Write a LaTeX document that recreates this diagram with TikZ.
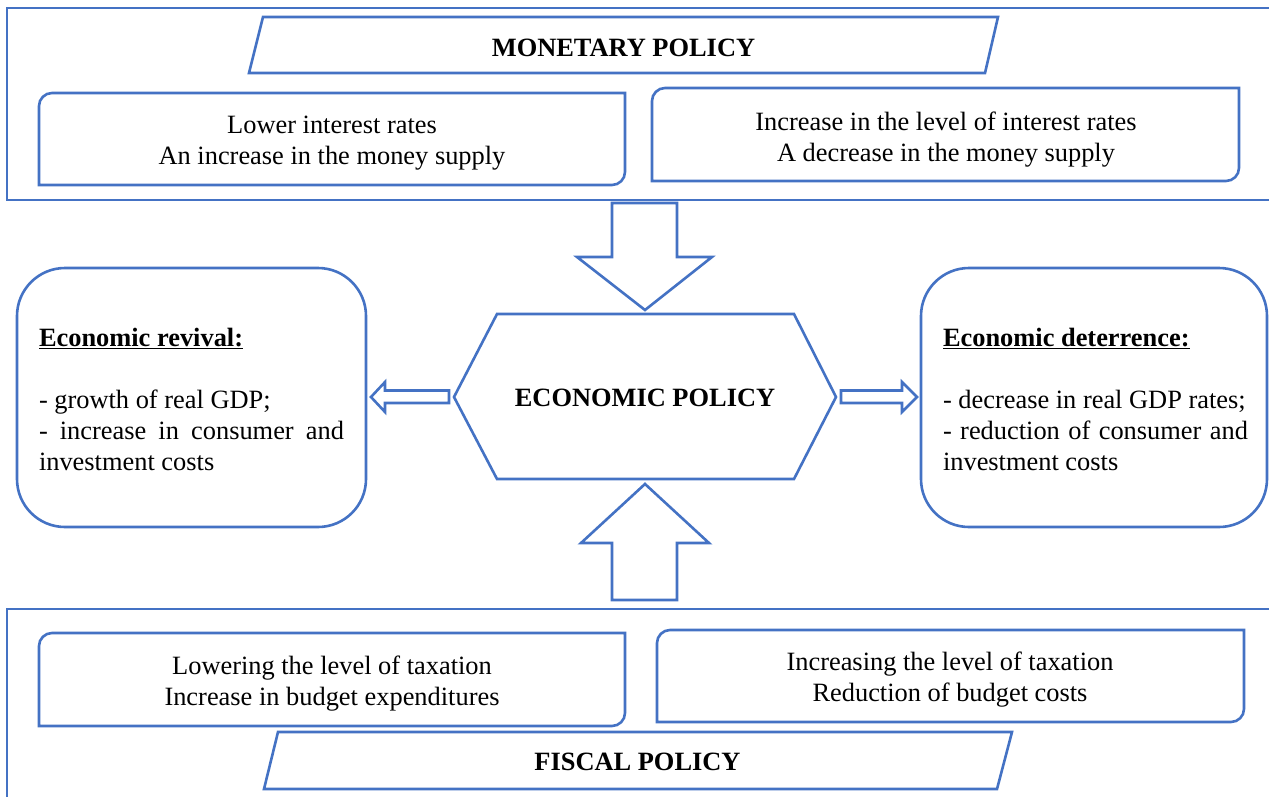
\documentclass[tikz,border=0pt]{standalone}
\usepackage{fontspec}
\setmainfont{Liberation Serif}
\definecolor{ob}{HTML}{4472C4}
\tikzset{
  ln/.style={draw=ob, line width=2.6pt, line join=miter},
  txt/.style={font=\fontsize{26.4}{31}\selectfont, align=center, inner sep=0pt},
  sidetxt/.style={font=\fontsize{26.4}{31}\selectfont, text width=305pt, align=justify, inner sep=0pt}
}
\newcommand\rdbox[5]{%
  \draw[ln] (#1,#4) -- (#1,#2+#5) .. controls (#1,#2+0.45*#5) and (#1+0.45*#5,#2) .. (#1+#5,#2)
    -- (#3,#2) -- (#3,#4-#5) .. controls (#3,#4-0.45*#5) and (#3-0.45*#5,#4) .. (#3-#5,#4) -- cycle;}
\begin{document}
\begin{tikzpicture}[x=1pt,y=-1pt]
\useasboundingbox (0,0) rectangle (1269,796);
\clip (0,0) rectangle (1269,796);
\fill[white] (0,0) rectangle (1269,796);
% outer frames
\draw[ln] (7,8) rectangle (1290,200);
\draw[ln] (7,609) rectangle (1290,820);
% parallelograms
\draw[ln] (263,17) -- (998,17) -- (985,73) -- (249,73) -- cycle;
\draw[ln] (278,732) -- (1012,732) -- (997,789) -- (264,789) -- cycle;
% policy boxes
\rdbox{39}{93}{625}{185}{13}
\rdbox{652}{88}{1239}{181}{13}
\rdbox{39}{633}{625}{726}{13}
\rdbox{657}{630}{1244}{722}{13}
% side boxes
\draw[ln, rounded corners=48pt] (17,268) rectangle (366,527);
\draw[ln, rounded corners=48pt] (921,268) rectangle (1267,527);
% hexagon
\draw[ln] (454,397) -- (497,314) -- (794,314) -- (836,397) -- (794,479) -- (497,479) -- cycle;
% block arrows
\coordinate (dtip) at (645,310);
\coordinate (utip) at (645,484);
\coordinate (ltip) at (371,397);
\coordinate (rtip) at (917,397);
\draw[ln] (dtip) -- (712,257) -- (677,257) -- (677,203) -- (612,203) -- (612,257) -- (577,257) -- cycle;
\draw[ln] (utip) -- (709,543) -- (677,543) -- (677,600) -- (612,600) -- (612,543) -- (581,543) -- cycle;
\draw[ln] (ltip) -- (385,382) -- (385,390.5) -- (449,390.5) -- (449,403) -- (385,403) -- (385,412) -- cycle;
\draw[ln] (rtip) -- (902,382) -- (902,390.5) -- (841,390.5) -- (841,403) -- (902,403) -- (902,412) -- cycle;
% texts
\node[txt] (mon) at (623.5,48) {\textbf{MONETARY POLICY}};
\node[txt] (mL) at (332,143) {Lower interest rates\\An increase in the money supply};
\node[txt] (mR) at (946,139.5) {Increase in the level of interest rates\\A decrease in the money supply};
\node[txt] (eco) at (645,398) {\textbf{ECONOMIC POLICY}};
\node[sidetxt] (rev) at (191.5,399) {\parindent=0pt\hyphenpenalty=10000\tolerance=9999
  \underline{\textbf{Economic revival:}}\par\strut\par
  - growth of real GDP;\par
  - increase in consumer and investment costs};
\node[sidetxt] (det) at (1095.5,399) {\parindent=0pt\hyphenpenalty=10000\tolerance=9999
  \underline{\textbf{Economic deterrence:}}\par\strut\par
  - decrease in real GDP rates;\par
  - reduction of consumer and investment costs};
\node[txt] (fL) at (332,683.5) {Lowering the level of taxation\\Increase in budget expenditures};
\node[txt] (fR) at (950,680) {Increasing the level of taxation\\Reduction of budget costs};
\node[txt] (fis) at (637.5,762) {\textbf{FISCAL POLICY}};
\end{tikzpicture}
\end{document}
